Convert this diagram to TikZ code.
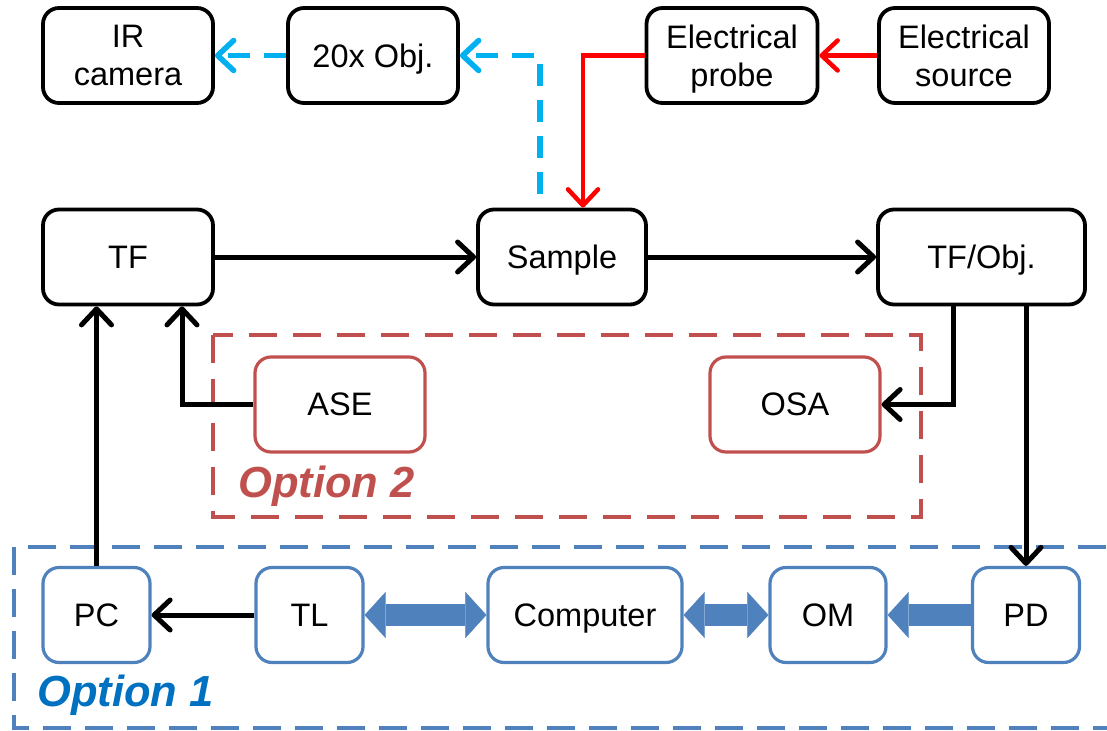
\documentclass[tikz,border=0pt]{standalone}
\usepackage{fontspec}
\setmainfont{Liberation Sans}
\usetikzlibrary{arrows.meta,calc}
\definecolor{optred}{HTML}{C0504D}
\definecolor{optblue}{HTML}{4F81BD}
\definecolor{optbluetext}{HTML}{0070C0}
\definecolor{cyanline}{HTML}{00B0F0}
\definecolor{redline}{HTML}{FF0000}
\tikzset{
  bbox/.style={draw=black, rounded corners=16pt, line width=3.8pt, minimum height=95pt,
    align=center, inner sep=0pt, text depth=0pt, font=\fontsize{32.5}{38.5}\selectfont},
  rbox/.style={bbox, draw=optred, line width=3.2pt},
  ubox/.style={bbox, draw=optblue, line width=3.2pt},
  barb/.tip={Straight Barb[length=16pt,width=30pt,round]},
  blk/.style={draw=black, line width=5pt, -barb},
  redarr/.style={draw=redline, line width=4.5pt, -barb},
  cyanarr/.style={draw=cyanline, line width=5.5pt, dash pattern=on 22pt off 14pt, -barb},
  fatarr/.style={draw=optblue, line width=22pt},
  fattip/.tip={Triangle[length=21pt,width=46pt,line width=0.1pt]},
  opttext/.style={font=\fontsize{43.5}{50}\selectfont\bfseries\itshape, inner sep=0pt},
}
\begin{document}
\begin{tikzpicture}[x=1pt,y=-1pt]
\useasboundingbox (0,0) rectangle (1107,730);
% top row
\node[bbox, minimum width=170pt] (ir) at (128,55.5) {IR\\camera};
\node[bbox, minimum width=170pt] (obj) at (373,55.5) {20x Obj.};
\node[bbox, minimum width=171pt] (probe) at (732,55.5) {Electrical\\probe};
\node[bbox, minimum width=170pt] (src) at (964,55.5) {Electrical\\source};
% middle row
\node[bbox, minimum width=170pt] (tf) at (128,257) {TF};
\node[bbox, minimum width=168pt] (sample) at (562,257) {Sample};
\node[bbox, minimum width=207pt] (tfobj) at (981.5,257) {TF/Obj.};
% option 2
\draw[optred, line width=3.5pt, dash pattern=on 28pt off 16pt] (213,335) rectangle (921,517);
\node[rbox, minimum width=170pt] (ase) at (340,404.5) {ASE};
\node[rbox, minimum width=170pt] (osa) at (795,404.5) {OSA};
\node[opttext, text=optred, anchor=base west] (o2) at (238,497) {Option 2};
% option 1
\draw[optblue, line width=3.5pt, dash pattern=on 28pt off 14pt] (14,547) rectangle (1135,728);
\node[ubox, minimum width=107pt] (pc) at (96.5,615) {PC};
\node[ubox, minimum width=107pt] (tl) at (309.5,615) {TL};
\node[ubox, minimum width=194pt] (computer) at (585,615) {Computer};
\node[ubox, minimum width=116pt] (om) at (828,615) {OM};
\node[ubox, minimum width=107pt] (pd) at (1026,615) {PD};
\node[opttext, text=optbluetext, anchor=base west] (o1) at (37,706) {Option 1};
% black connectors
\draw[blk] (tf) -- (sample);
\draw[blk] (sample) -- (tfobj);
\draw[blk] ([xshift=-28.5pt]tfobj.south) |- (osa.east);
\draw[blk] (tfobj.south -| pd.north) -- (pd.north);
\draw[blk] (ase.west) -| ([xshift=54pt]tf.south);
\draw[blk] (pc.north) -- (pc.north |- tf.south);
\draw[blk] (tl) -- (pc);
% red connectors
\draw[redarr] (src) -- (probe);
\draw[redarr] (probe.west) -| ([xshift=21pt]sample.north);
% cyan dashed connectors
\draw[cyanarr, dash phase=22pt] ([xshift=-22pt]sample.north) |- (obj.east);
\draw[cyanarr] (obj) -- (ir);
% fat blue arrows
\draw[fatarr, fattip-fattip] (tl) -- (computer);
\draw[fatarr, fattip-fattip] (computer) -- (om);
\draw[fatarr, -fattip] (pd) -- (om);
\end{tikzpicture}
\end{document}
